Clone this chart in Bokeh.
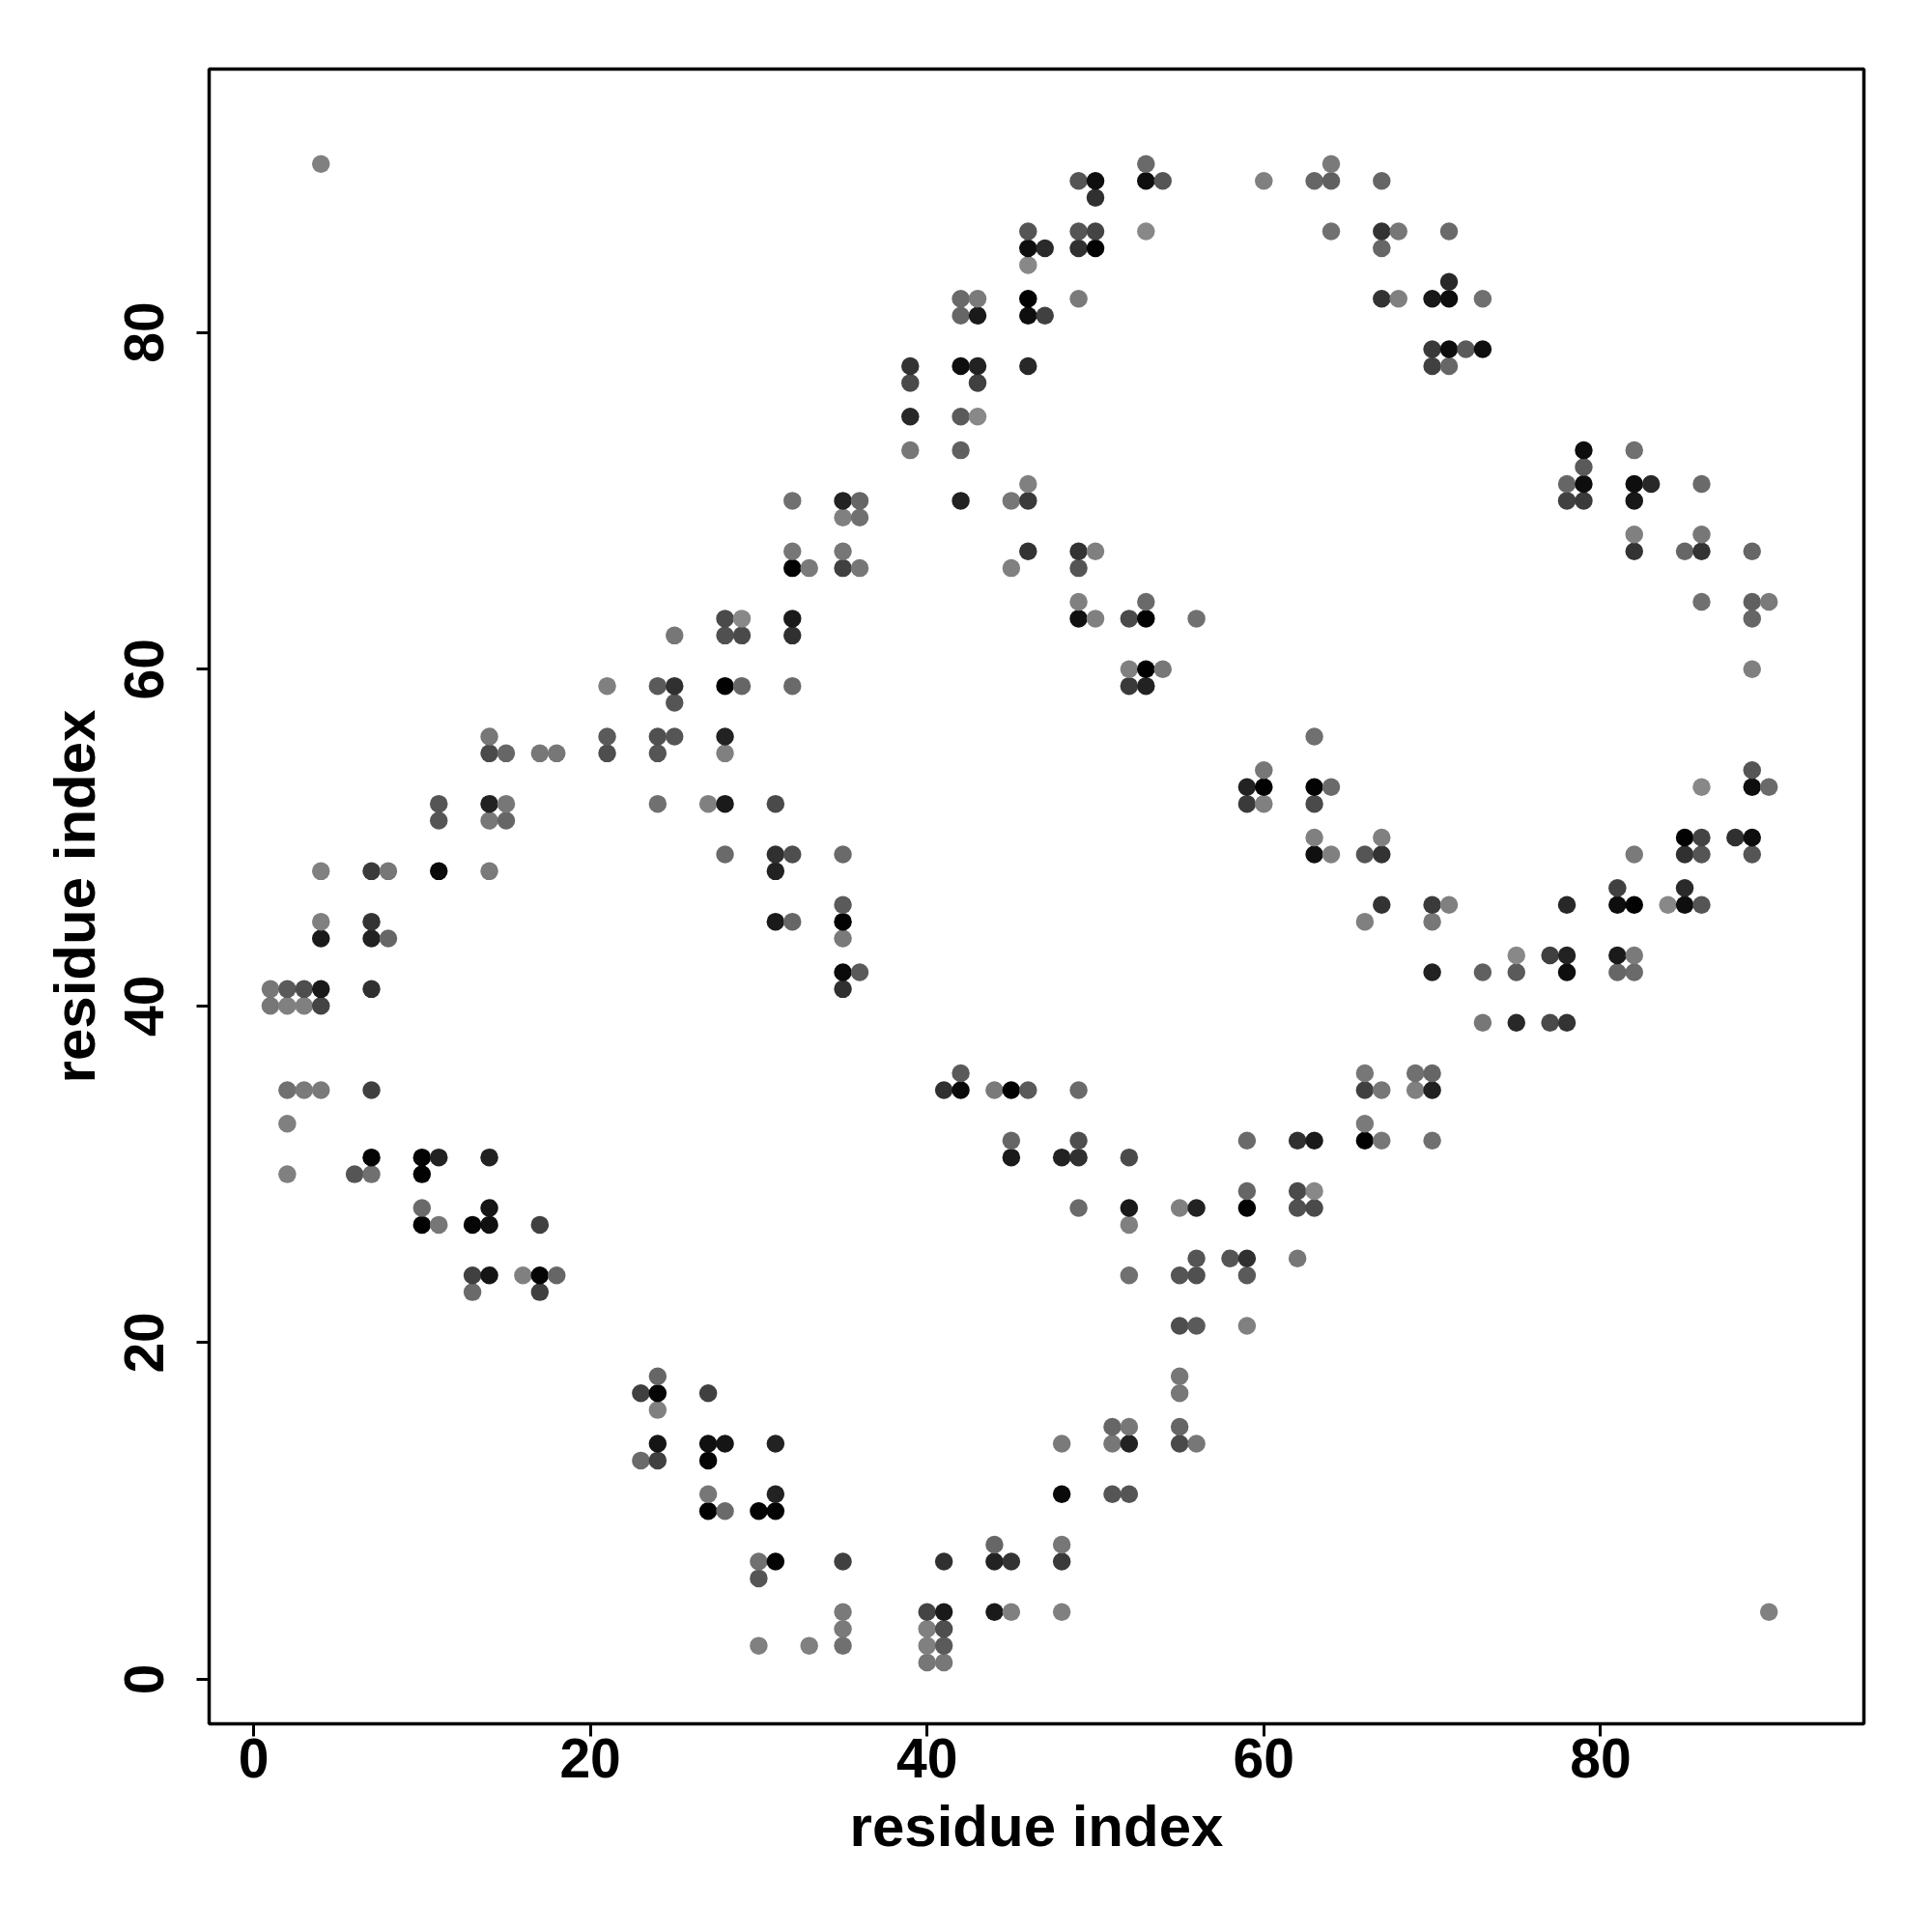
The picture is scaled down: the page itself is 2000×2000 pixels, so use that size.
from bokeh.plotting import figure
from bokeh.models import ColumnDataSource, Range1d, FixedTicker, LinearColorMapper
from bokeh.transform import transform
from bokeh.embed import file_html
from bokeh.resources import INLINE

# Contact pairs (upper triangle, res_a < res_b); the map is symmetric.
res_a = [
    1, 1,
    2, 2, 2, 2, 2,
    3, 3, 3,
    4, 4, 4, 4, 4, 4, 4,
    6,
    7, 7, 7, 7, 7, 7, 7,
    8, 8,
    10, 10, 10, 10,
    11, 11, 11, 11, 11,
    13, 13, 13,
    14, 14, 14, 14, 14, 14, 14, 14, 14,
    15, 15, 15,
    16,
    17, 17, 17, 17,
    18, 18,
    21, 21, 21,
    24, 24, 24, 24,
    25, 25, 25, 25,
    27,
    28, 28, 28, 28, 28, 28, 28,
    29, 29, 29,
    31, 31, 31, 31,
    32, 32, 32, 32, 32, 32, 32, 32,
    33,
    35, 35, 35, 35, 35, 35, 35, 35, 35, 35,
    36, 36, 36, 36,
    39, 39, 39, 39,
    42, 42, 42, 42, 42, 42,
    43, 43, 43, 43, 43,
    45, 45,
    46, 46, 46, 46, 46, 46, 46, 46, 46,
    47, 47,
    49, 49, 49, 49, 49, 49, 49, 49,
    50, 50, 50, 50, 50, 50,
    52, 52, 52,
    53, 53, 53, 53, 53, 53, 53,
    54, 54,
    56,
    60,
    63,
    64, 64, 64,
    67, 67, 67, 67,
    68, 68,
    70, 70, 70,
    71, 71, 71, 71, 71,
    72,
    73, 73,
]
res_b = [
    40, 41,
    30, 33, 35, 40, 41,
    35, 40, 41,
    35, 40, 41, 44, 45, 48, 90,
    30,
    30, 31, 35, 41, 44, 45, 48,
    44, 48,
    27, 28, 30, 31,
    27, 31, 48, 51, 52,
    23, 24, 27,
    24, 27, 28, 31, 48, 51, 52, 55, 56,
    51, 52, 55,
    24,
    23, 24, 27, 55,
    24, 55,
    55, 56, 59,
    52, 55, 56, 59,
    56, 58, 59, 62,
    52,
    49, 52, 55, 56, 59, 62, 63,
    59, 62, 63,
    45, 48, 49, 52,
    45, 49, 59, 62, 63, 66, 67, 70,
    66,
    41, 42, 44, 45, 46, 49, 66, 67, 69, 70,
    42, 66, 69, 70,
    73, 75, 77, 78,
    70, 73, 75, 78, 81, 82,
    75, 77, 78, 81, 82,
    66, 70,
    67, 70, 71, 78, 81, 82, 84, 85, 86,
    81, 85,
    63, 64, 66, 67, 82, 85, 86, 89,
    63, 67, 85, 86, 88, 89,
    59, 60, 63,
    59, 60, 63, 64, 86, 89, 90,
    60, 89,
    63,
    89,
    89,
    86, 89, 90,
    82, 85, 86, 89,
    82, 86,
    78, 79, 82,
    78, 79, 82, 83, 86,
    79,
    79, 82,
]
# grey level of each contact (0 = black, 138 = light grey)
shade = [
    119, 119,
    128, 128, 112, 128, 90,
    122, 128, 78,
    122, 68, 26, 26, 128, 128, 128,
    85,
    112, 5, 64, 48, 34, 51, 58,
    102, 119,
    2, 106, 2, 3,
    119, 34, 10, 85, 85,
    106, 64, 5,
    21, 16, 21, 34, 122, 119, 34, 74, 119,
    102, 119, 102,
    128,
    64, 5, 64, 119,
    102, 119,
    78, 90, 128,
    112, 85, 80, 90,
    85, 85, 48, 119,
    128,
    106, 26, 128, 34, 2, 80, 74,
    102, 74, 136,
    26, 34, 48, 74,
    102, 78, 106, 48, 26, 2, 119, 112,
    122,
    48, 10, 122, 2, 90, 106, 64, 119, 128, 34,
    90, 119, 112, 102,
    119, 40, 74, 51,
    34, 96, 90, 14, 102, 106,
    136, 64, 34, 26, 122,
    128, 119,
    51, 58, 128, 40, 14, 2, 136, 14, 85,
    64, 42,
    16, 128, 85, 51, 122, 48, 85, 85,
    128, 128, 2, 68, 48, 14,
    58, 128, 74,
    34, 0, 3, 106, 136, 14, 106,
    119, 85,
    112,
    128,
    102,
    112, 96, 122,
    51, 102, 51, 102,
    128, 119,
    64, 58, 24,
    102, 14, 14, 40, 106,
    90,
    14, 112,
]
axis_ticks = [0, 20, 40, 60, 80]
axis_title = "residue index"

src = ColumnDataSource(dict(
    x=res_a + res_b,
    y=res_b + res_a,
    shade=shade + shade,
))

palette = ["#%02x%02x%02x" % (v, v, v) for v in range(0, 139)]
mapper = LinearColorMapper(palette=palette, low=0, high=138)

p = figure(
    frame_width=1713, frame_height=1713,
    min_border_left=216, min_border_right=55,
    min_border_top=71, min_border_bottom=200,
    x_range=Range1d(-2.64, 95.64), y_range=Range1d(-2.64, 95.64),
    output_backend="svg", toolbar_location=None,
    background_fill_color="white", border_fill_color="white",
)
p.grid.visible = False
p.outline_line_color = "black"
p.outline_line_width = 3.5

p.scatter("x", "y", source=src, size=18.5,
          fill_color=transform("shade", mapper), line_color=None)

for ax in (p.xaxis[0], p.yaxis[0]):
    ax.ticker = FixedTicker(ticks=axis_ticks)
    ax.axis_line_color = None
    ax.major_tick_in = 0
    ax.major_tick_out = 13
    ax.major_tick_line_width = 3
    ax.major_tick_line_color = "black"
    ax.minor_tick_line_color = None
    ax.major_label_text_font = "Liberation Sans"
    ax.major_label_text_font_style = "bold"
    ax.major_label_text_font_size = "57px"
    ax.major_label_text_color = "black"
    ax.axis_label = axis_title
    ax.axis_label_text_font = "Liberation Sans"
    ax.axis_label_text_font_style = "bold"
    ax.axis_label_text_font_size = "60px"
    ax.axis_label_text_color = "black"

p.xaxis.major_label_standoff = 2
p.xaxis.axis_label_standoff = 14
p.yaxis.major_label_orientation = "vertical"
p.yaxis.major_label_standoff = 34
p.yaxis.axis_label_standoff = 16

open("out.html", "w").write(file_html(p, INLINE))
